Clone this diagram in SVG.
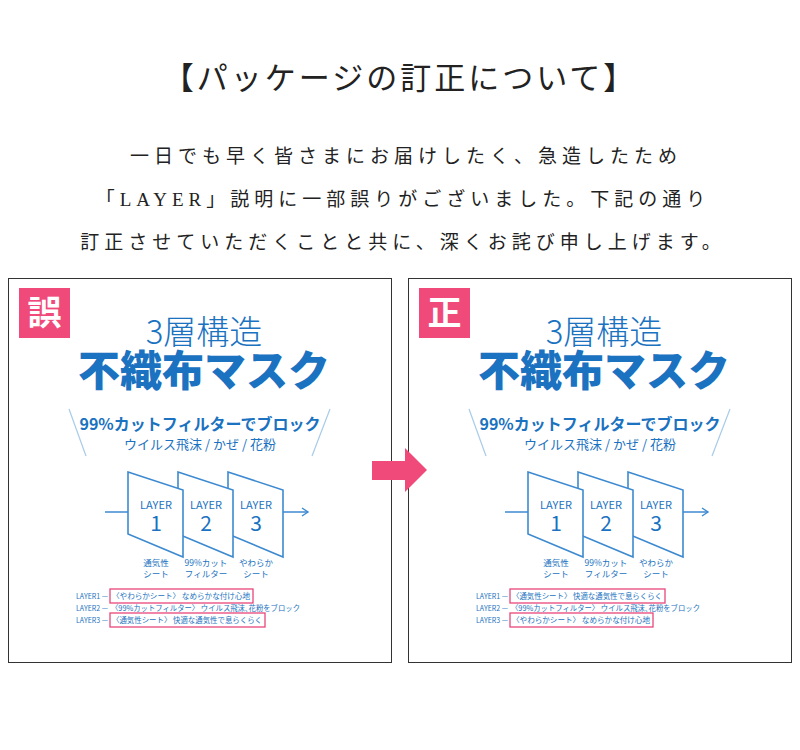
<svg xmlns="http://www.w3.org/2000/svg" width="800" height="750" viewBox="0 0 800 750">
<defs>
<style>
.ser{font-family:"Liberation Serif","Noto Sans CJK JP",serif;fill:#222;text-anchor:middle}
.b{font-family:"Noto Sans CJK JP",sans-serif;fill:#1a72c0;text-anchor:middle}
.lay{fill:#fff;stroke:#3d8ad0;stroke-width:1.6}
.ln{stroke:#3d8ad0;stroke-width:1.4;fill:none}
.sl{stroke:#a8cbe8;stroke-width:1.2}
.pk{fill:none;stroke:#e8457a;stroke-width:1.3}
.sm{font-family:"Noto Sans CJK JP",sans-serif;fill:#1a72c0;font-size:7.5px}
</style>
<g id="panel">
<rect x="0.5" y="0.5" width="383" height="384" fill="#fff" stroke="#333" stroke-width="1"/>
<text class="b" x="196" y="66" font-size="33" font-weight="300">3層構造</text>
<text class="b" x="196" y="108" font-size="42" font-weight="900">不織布マスク</text>
<line class="sl" x1="61" y1="131" x2="78" y2="178"/>
<line class="sl" x1="322" y1="131" x2="304" y2="178"/>
<text class="b" x="192" y="152" font-size="16" font-weight="700">99%カットフィルターでブロック</text>
<text class="b" x="192" y="171" font-size="13">ウイルス飛沫 / かぜ / 花粉</text>
<line class="ln" x1="97" y1="234" x2="300" y2="234"/>
<path class="ln" d="M294 230 L300 234 L294 238"/>
<polygon class="lay" points="220,194 275,212 275,279 220,256"/>
<polygon class="lay" points="170,194 225,212 225,279 170,256"/>
<polygon class="lay" points="120,194 175,212 175,279 120,256"/>
<text class="b" x="148" y="231" font-size="11">LAYER</text>
<text class="b" x="148" y="253" font-size="21">1</text>
<text class="b" x="198" y="231" font-size="11">LAYER</text>
<text class="b" x="198" y="253" font-size="21">2</text>
<text class="b" x="248" y="231" font-size="11">LAYER</text>
<text class="b" x="248" y="253" font-size="21">3</text>
<text class="b" x="148" y="288" font-size="8.5">通気性</text>
<text class="b" x="148" y="299" font-size="8.5">シート</text>
<text class="b" x="198" y="288" font-size="8.5">99%カット</text>
<text class="b" x="198" y="299" font-size="8.5">フィルター</text>
<text class="b" x="248" y="288" font-size="8.5">やわらか</text>
<text class="b" x="248" y="299" font-size="8.5">シート</text>
<text class="sm" x="68" y="321" textLength="32" lengthAdjust="spacingAndGlyphs">LAYER1 —</text>
<text class="sm" x="68" y="333" textLength="32" lengthAdjust="spacingAndGlyphs">LAYER2 —</text>
<text class="sm" x="68" y="345" textLength="32" lengthAdjust="spacingAndGlyphs">LAYER3 —</text>
<text class="sm" x="103" y="333" textLength="189" lengthAdjust="spacingAndGlyphs">〈99%カットフィルター〉 ウイルス飛沫､花粉をブロック</text>
</g>
</defs>
<rect width="800" height="750" fill="#fff"/>
<text class="ser" x="400" y="89" font-size="31" letter-spacing="3">【パッケージの訂正について】</text>
<text class="ser" x="406" y="163" font-size="19" letter-spacing="5">一日でも早く皆さまにお届けしたく、急造したため</text>
<text class="ser" x="403" y="206" font-size="19" letter-spacing="5">「LAYER」説明に一部誤りがございました。下記の通り</text>
<text class="ser" x="403" y="249" font-size="19" letter-spacing="5">訂正させていただくことと共に、深くお詫び申し上げます。</text>
<g id="wrong" transform="translate(8,278)">
<use href="#panel"/>
<rect x="11" y="10" width="51" height="50" fill="#ef4a7a"/>
<text x="36.5" y="47" font-size="34" font-weight="700" fill="#fff" text-anchor="middle" font-family="Noto Sans CJK JP,sans-serif">誤</text>
<text class="sm" x="104" y="321" textLength="138" lengthAdjust="spacingAndGlyphs">〈やわらかシート〉 なめらかな付け心地</text>
<rect class="pk" x="102" y="311" width="143" height="14"/>
<text class="sm" x="104" y="345" textLength="150" lengthAdjust="spacingAndGlyphs">〈通気性シート〉 快適な通気性で息らくらく</text>
<rect class="pk" x="102" y="335" width="155" height="14"/>
</g>
<g id="right" transform="translate(408,278)">
<use href="#panel"/>
<rect x="11" y="10" width="51" height="50" fill="#ef4a7a"/>
<text x="36.5" y="47" font-size="34" font-weight="700" fill="#fff" text-anchor="middle" font-family="Noto Sans CJK JP,sans-serif">正</text>
<text class="sm" x="104" y="321" textLength="150" lengthAdjust="spacingAndGlyphs">〈通気性シート〉 快適な通気性で息らくらく</text>
<rect class="pk" x="102" y="311" width="155" height="14"/>
<text class="sm" x="104" y="345" textLength="138" lengthAdjust="spacingAndGlyphs">〈やわらかシート〉 なめらかな付け心地</text>
<rect class="pk" x="102" y="335" width="143" height="14"/>
</g>
<g id="connectors">
<polygon points="372,461 405,461 405,448 427,470 405,492 405,480 372,480" fill="#ef4a7a"/>
</g>
</svg>
